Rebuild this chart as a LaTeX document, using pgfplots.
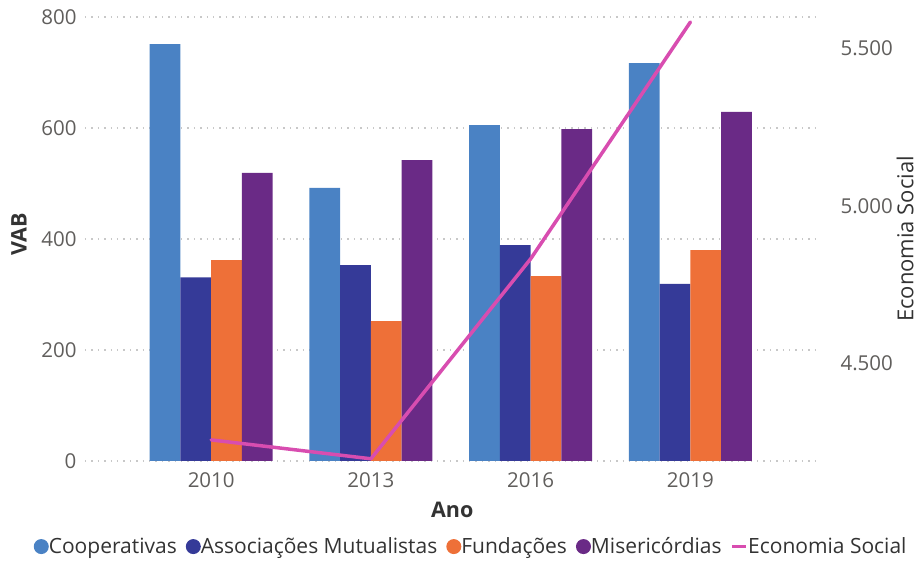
\documentclass[border=0pt]{standalone}
\usepackage{pgfplots}
\pgfplotsset{compat=1.18}
\usepackage{fontspec}
\setmainfont{Open Sans}
\definecolor{coop}{HTML}{4A82C4}
\definecolor{assoc}{HTML}{353A98}
\definecolor{fund}{HTML}{EE7038}
\definecolor{miser}{HTML}{6A2A86}
\definecolor{econ}{HTML}{D84DB0}
\definecolor{ticktxt}{HTML}{605E5C}
\definecolor{labtxt}{HTML}{333333}
\definecolor{gridc}{HTML}{C8C8C8}
\begin{document}
\begin{tikzpicture}
\pgfplotsset{
  common/.style={
    scale only axis, width=730pt, height=444pt,
    xmin=-0.79, xmax=3.78,
    axis line style={draw=none},
    major tick length=0pt,
    /pgf/number format/assume math mode=true,
    ticklabel style={font=\fontsize{20.5}{24}\selectfont, text=ticktxt},
  }
}
\begin{axis}[common, name=ax,
  ymin=0, ymax=800,
  ybar=0pt, bar width=0.1925,
  xtick={0,1,2,3}, xticklabels={2010,2013,2016,2019},
  ytick={0,200,400,600,800},
  ymajorgrids,
  grid style={gridc, line width=1.4pt, dash pattern=on 1.4pt off 5pt},
  yticklabel style={xshift=-5pt},
  xticklabel style={yshift=-8pt},
  ylabel={VAB},
  ylabel style={at={(axis description cs:-0.0904,0.51)}, anchor=center, font=\fontsize{21.5}{25}\selectfont\bfseries, text=labtxt},
  xlabel={Ano},
  xlabel style={at={(axis description cs:0.503,-0.110)}, anchor=center, font=\fontsize{21.5}{25}\selectfont\bfseries, text=labtxt},
  legend columns=5,
  legend style={draw=none, fill=none, at={(axis description cs:0.529,-0.168)}, anchor=north,
    font=\fontsize{21}{25}\selectfont, text=labtxt,
    /tikz/every even column/.append style={column sep=7pt},
    /tikz/every odd column/.append style={column sep=-2pt},
    inner sep=0pt},
  legend cell align=left,
]
\addplot[fill=coop, draw=none, legend image code/.code={\fill[coop] (4pt,0) circle (7.5pt);}]
  coordinates {(0,751) (1,492) (2,605) (3,717)};
\addlegendentry{Cooperativas}
\addplot[fill=assoc, draw=none, legend image code/.code={\fill[assoc] (4pt,0) circle (7.5pt);}]
  coordinates {(0,331) (1,353) (2,389) (3,319)};
\addlegendentry{Associações Mutualistas}
\addplot[fill=fund, draw=none, legend image code/.code={\fill[fund] (4pt,0) circle (7.5pt);}]
  coordinates {(0,362) (1,252) (2,333) (3,380)};
\addlegendentry{Fundações}
\addplot[fill=miser, draw=none, legend image code/.code={\fill[miser] (4pt,0) circle (7.5pt);}]
  coordinates {(0,519) (1,542) (2,598) (3,629)};
\addlegendentry{Misericórdias}
\addlegendimage{legend image code/.code={\draw[econ, line width=3.5pt] (-3pt,0) -- (11pt,0);}}
\addlegendentry{Economia Social}
\end{axis}
\begin{axis}[common,
  ymin=4190, ymax=5600,
  axis y line*=right,
  axis x line=none,
  ytick={4500,5000,5500}, yticklabels={4.500,5.000,5.500},
  yticklabel style={xshift=22pt},
  ylabel={Economia Social},
  ylabel style={at={(axis description cs:1.1233,0.5)}, anchor=center, rotate=0, font=\fontsize{22}{26}\selectfont, text=labtxt},
]
\addplot[econ, line width=3.5pt, line cap=round, line join=round]
  coordinates {(0,4257) (1,4197) (2,4832) (3,5584)};
\end{axis}
\pgfresetboundingbox
\path ([shift={(-85pt,-101pt)}]ax.south west) rectangle ([shift={(106pt,17pt)}]ax.north east);
\end{tikzpicture}
\end{document}
